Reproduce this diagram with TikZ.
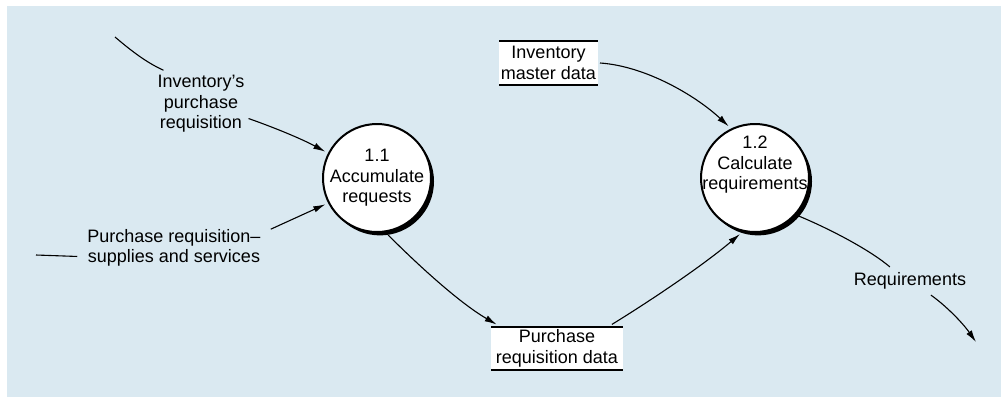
\documentclass[tikz,border=0pt]{standalone}
\usepackage{fontspec}
\setmainfont{Liberation Sans}
\usetikzlibrary{arrows.meta,shadows}
\definecolor{panel}{RGB}{218,233,241}
\begin{document}
\begin{tikzpicture}[x=1pt,y=-1pt,
  font=\fontsize{18}{20.5}\selectfont,
  plain/.style={line width=1.1pt},
  flow/.style={line width=1.1pt,-{Latex[length=12pt,width=6.5pt]}},
  proc/.style={circle,draw,line width=2pt,fill=white,minimum size=108pt,
    inner sep=0pt,outer sep=4pt,
    drop shadow={shadow xshift=3pt,shadow yshift=-3.4pt,fill=black,opacity=1}},
  ptext/.style={align=center,inner sep=0pt},
  store/.style={fill=white,align=center,inner sep=0pt,outer sep=0pt},
  storeline/.style={line width=2.2pt},
  lbl/.style={align=center}]

% page and panel
\useasboundingbox (0,0) rectangle (1001,397);
\fill[panel] (7,6) rectangle (1001,397);

% processes
\node[proc] (p11) at (377,178) {};
\node[ptext] (t11) at (p11.center) {1.1\\Accumulate\\requests};
\node[proc] (p12) at (755,178) {};
\node[ptext] (t12) at ([yshift=13pt]p12.center) {1.2\\Calculate\\requirements};

% data stores
\node[store,minimum width=99pt,minimum height=44pt] (s1) at (548.5,63) {Inventory\\master data};
\draw[storeline] (s1.north west) -- (s1.north east) (s1.south west) -- (s1.south east);
\node[store,minimum width=132pt,minimum height=43pt] (s2) at (557,348.5) {Purchase\\requisition data};
\draw[storeline] (s2.north west) -- (s2.north east) (s2.south west) -- (s2.south east);

% flow labels
\node[lbl,inner xsep=4pt,inner ysep=5pt] (l1) at (201,104) {Inventory’s\\purchase\\requisition};
\node[lbl,inner xsep=10pt] (l2) at (174,248) {Purchase requisition\textendash\\supplies and services};
\node[lbl,inner xsep=3pt,inner ysep=5.5pt] (l3) at (910,281) {Requirements};

% free ends
\coordinate (src1) at (115,37);
\coordinate (src2) at (36,255);
\coordinate (sink) at (976,342);

% flows
\draw[plain] (src1) .. controls (128,48) and (145,62) .. (l1.138);
\draw[flow] (l1.-17) .. controls (270,126) and (300,138) .. (p11.153);
\draw[plain] (src2) -- (l2.185);
\draw[flow] (l2.11) -- (p11.207);
\draw[flow,shorten >=5pt] (p11.-79) .. controls (415,262) and (458,302) .. (s2.159);
\draw[flow,shorten <=5pt] (s2.23) .. controls (642,306) and (700,268) .. (p12.255);
\draw[flow] ([xshift=2pt]s1.east) .. controls (645,66) and (695,95) .. (p12.117);
\draw[plain] (p12.-41) .. controls (830,229) and (870,250) .. (l3.145.6);
\draw[flow] (l3.-34) .. controls (945,305) and (962,322) .. (sink);
\end{tikzpicture}
\end{document}
